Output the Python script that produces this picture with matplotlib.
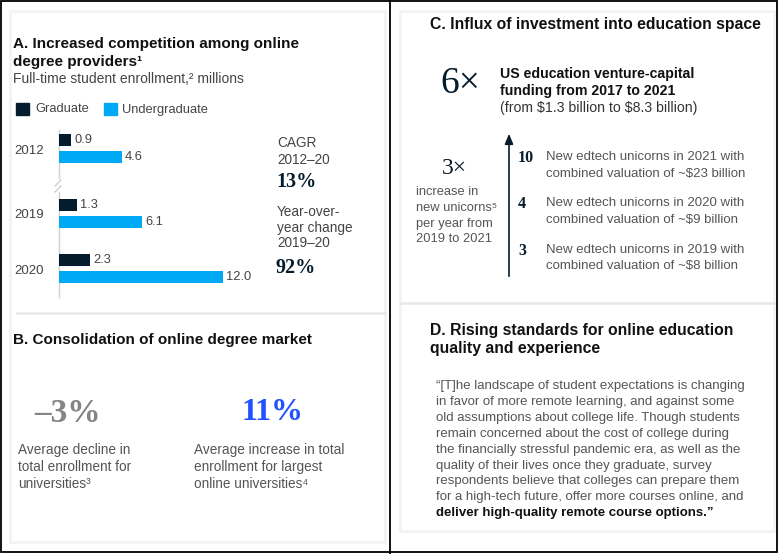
import numpy as np
import matplotlib
matplotlib.use("Agg")
import matplotlib.pyplot as plt

W, H = 779, 554
SANS = ["Liberation Sans", "DejaVu Sans"]
SERIF = ["Liberation Serif", "DejaVu Serif"]
NAVY = "#051c2c"
CYAN = "#00a9f4"
BLUE = "#2251ff"
TXT = "#333333"

# panel A data
years = ["2012", "2019", "2020"]
graduate = [0.9, 1.3, 2.3]
undergraduate = [4.6, 6.1, 12.0]
cagr = "13%"
yoy = "92%"

# panel B data
decline_all = "\u20133%"
increase_online = "11%"

# panel C data
vc_multiple = "6\u00d7"
unicorn_multiple = "3\u00d7"
unicorn_counts = ["10", "4", "3"]
unicorn_texts = [
    "New edtech unicorns in 2021 with\ncombined valuation of ~\\$23 billion",
    "New edtech unicorns in 2020 with\ncombined valuation of ~\\$9 billion",
    "New edtech unicorns in 2019 with\ncombined valuation of ~\\$8 billion",
]

quote_lines = [
    "\u201c[T]he landscape of student expectations is changing",
    "in favor of more remote learning, and against some",
    "old assumptions about college life. Though students",
    "remain concerned about the cost of college during",
    "the financially stressful pandemic era, as well as the",
    "quality of their lives once they graduate, survey",
    "respondents believe that colleges can prepare them",
    "for a high-tech future, offer more courses online, and",
]
quote_bold = "deliver high-quality remote course options.\u201d"

fig = plt.figure(figsize=(W / 100, H / 100), dpi=100)
fig.patch.set_facecolor("white")

# overlay in pixel coordinates for text and lines
ov = fig.add_axes([0, 0, 1, 1])
ov.set_xlim(0, W)
ov.set_ylim(H, 0)
ov.axis("off")


def txt(x, y, s, size=9, color=TXT, weight="normal", family=SANS, **kw):
    ov.text(x, y, s, fontsize=size, color=color, fontweight=weight,
            family=family, va="center", ha=kw.pop("ha", "left"), **kw)


# frames
ov.add_patch(plt.Rectangle((1, 1), W - 3, H - 3, fill=False, ec="black", lw=1.3))
ov.plot([390, 390], [0, H], color="black", lw=1.3)
ov.add_patch(plt.Rectangle((10, 11), 375, 531, fill=False, ec="#f3f3f3", lw=2))
ov.add_patch(plt.Rectangle((400, 11), 374, 520, fill=False, ec="#f3f3f3", lw=2))
ov.plot([17, 385], [313, 313], color="#e8e8e8", lw=1.8)
ov.plot([400, 774], [303, 303], color="#e8e8e8", lw=1.8)

# ---- panel A
txt(13, 44, "A. Increased competition among online", size=11, color="#111111", weight="bold")
txt(13, 62, "degree providers\u00b9", size=11, color="#111111", weight="bold")
txt(13, 79, "Full-time student enrollment,\u00b2 millions", size=10, color="#444444")

ov.add_patch(plt.Rectangle((16, 103), 13, 12, color=NAVY))
txt(35, 109.5, "Graduate", size=9.3, color="#444444")
ov.add_patch(plt.Rectangle((104, 103), 13, 12, color=CYAN))
txt(122, 109.5, "Undergraduate", size=9.3, color="#444444")

ax = fig.add_axes([59 / W, 1 - 298 / H, 200 / W, 170 / H])
ax.set_xlim(0, 200 / 13.65)
ax.set_ylim(298, 128)
ax.axis("off")
row_y = np.array([148.5, 213.5, 268.5])
off = 8.5
ax.barh(row_y - off, graduate, height=12.5, color=NAVY)
ax.barh(row_y + off, undergraduate, height=12.5, color=CYAN)
for yy, g, u, yr in zip(row_y, graduate, undergraduate, years):
    ax.annotate(f"{g:.1f}", (g, yy - off), xytext=(2, 0), textcoords="offset points",
                va="center", fontsize=9.3, color="#444444", family=SANS)
    ax.annotate(f"{u:.1f}", (u, yy + off), xytext=(2, 0), textcoords="offset points",
                va="center", fontsize=9.3, color="#444444", family=SANS)
    txt(14, yy + 2, yr, size=9.5, color="#444444")

# axis line with break marks
ov.plot([59, 59], [130, 178], color="#d0d0d0", lw=1)
ov.plot([59, 59], [192, 297], color="#d0d0d0", lw=1)
ov.plot([55, 61], [186, 180], color="#d0d0d0", lw=1)
ov.plot([55, 61], [192, 186], color="#d0d0d0", lw=1)

txt(277, 143, "CAGR", size=9.8, color="#444444")
txt(277, 160, "2012\u201320", size=9.8, color="#444444")
txt(276, 182, cagr, size=14.5, color=NAVY, weight="bold", family=SERIF)
txt(277, 212, "Year-over-", size=9.8, color="#444444")
txt(277, 228, "year change", size=9.8, color="#444444")
txt(277, 243, "2019\u201320", size=9.8, color="#444444")
txt(276, 268, yoy, size=14.5, color=NAVY, weight="bold", family=SERIF)

# ---- panel B
txt(13, 340, "B. Consolidation of online degree market", size=11, color="#111111", weight="bold")
txt(34, 413, decline_all, size=24, color="#858585", weight="bold", family=SERIF)
txt(242, 413, increase_online, size=23, color=BLUE, weight="bold", family=SERIF)
for i, s in enumerate(["Average decline in", "total enrollment for", "universities\u00b3"]):
    txt(18, 450 + i * 16.8, s, size=9.8, color="#555555")
for i, s in enumerate(["Average increase in total", "enrollment for largest",
                       "online universities\u2074"]):
    txt(194, 450 + i * 16.8, s, size=9.8, color="#555555")

# ---- panel C
txt(430, 24, "C. Influx of investment into education space", size=11.3, color="#111111", weight="bold")
txt(440, 84, vc_multiple, size=27, color=NAVY, family=SERIF)
txt(500, 74, "US education venture-capital", size=10.2, color="#111111", weight="bold")
txt(500, 91, "funding from 2017 to 2021", size=10.2, color="#111111", weight="bold")
txt(500, 108, "(from \\$1.3 billion to \\$8.3 billion)", size=10.2, color="#333333")

ov.annotate("", xy=(509, 131), xytext=(509, 279),
            arrowprops=dict(arrowstyle="-|>,head_length=0.6,head_width=0.25",
                            color=NAVY, lw=1.2))

txt(454, 168, unicorn_multiple, size=17, color=NAVY, family=SERIF, ha="center")
for i, s in enumerate(["increase in", "new unicorns\u2075", "per year from", "2019 to 2021"]):
    txt(416, 192 + i * 15.8, s, size=9.3, color="#555555")

for i, (n, s) in enumerate(zip(unicorn_counts, unicorn_texts)):
    yy = 157 + i * 46.5
    txt(518, yy + 1, n, size=11.5, color=NAVY, weight="bold", family=SERIF)
    l1, l2 = s.split("\n")
    txt(546, yy, l1, size=9.5, color="#555555")
    txt(546, yy + 16.5, l2, size=9.5, color="#555555")

# ---- panel D
txt(430, 330, "D. Rising standards for online education", size=11.3, color="#111111", weight="bold")
txt(430, 349, "quality and experience", size=11.3, color="#111111", weight="bold")
for i, s in enumerate(quote_lines):
    txt(436, 386 + i * 15.9, s, size=9.5, color="#555555")
txt(436, 386 + 8 * 15.9, quote_bold, size=9.5, color="#111111", weight="bold")

fig.savefig("out.png", dpi=100)
